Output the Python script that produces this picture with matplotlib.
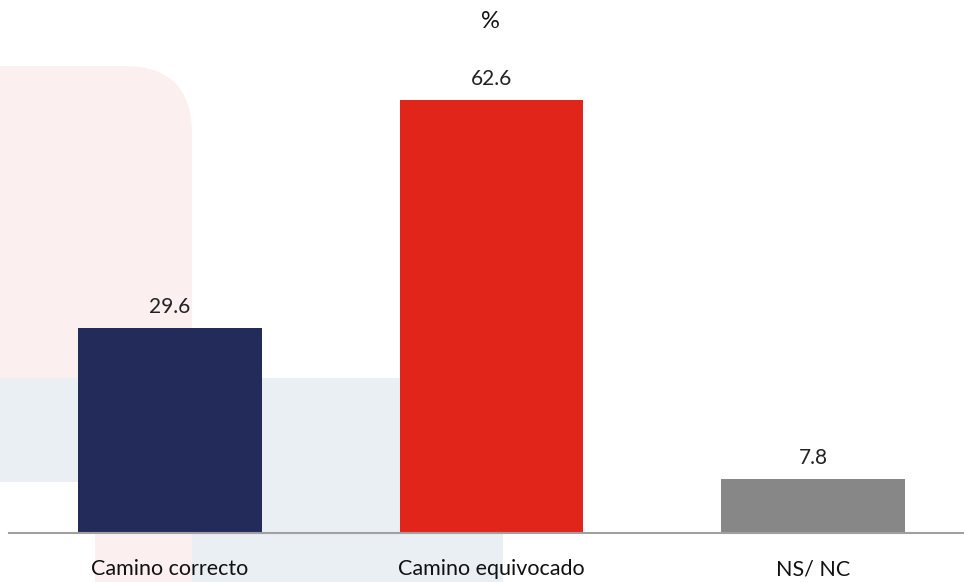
import matplotlib.pyplot as plt
from matplotlib.patches import FancyBboxPatch, Rectangle

# data
categories = ['Camino correcto', 'Camino equivocado', 'NS/ NC']
values = [29.6, 62.6, 7.8]
bar_colors = ['#222B59', '#E1251B', '#878787']

plt.rcParams['font.family'] = ['Lato', 'DejaVu Sans']

W, H = 964, 582
fig = plt.figure(figsize=(W / 100, H / 100), dpi=100)

# faint background decoration, in pixel coordinates
bg = fig.add_axes([0, 0, 1, 1], zorder=0)
bg.set_xlim(0, W)
bg.set_ylim(H, 0)
bg.axis('off')
pink = '#FBEFEF'
blue = '#EAEFF4'
bg.add_patch(FancyBboxPatch((-150, 66), 342, 700, boxstyle='round,pad=0,rounding_size=68',
                            fc=pink, ec='none'))
bg.add_patch(Rectangle((0, 482), 95, 120, fc='white', ec='none'))
bg.add_patch(Rectangle((0, 378), 503, 104, fc=blue, ec='none'))
bg.add_patch(Rectangle((192, 482), 311, 120, fc=blue, ec='none'))

# main chart
left = 9.25 / W
width = 964.5 / W
bottom = (H - 533) / H
ymax = 70
height = ymax * 6.92 / H
ax = fig.add_axes([left, bottom, width, height], zorder=1)
ax.set_facecolor('none')

x = range(len(categories))
bars = ax.bar(x, values, width=0.572, color=bar_colors)
ax.set_xlim(-0.5, 2.5)
ax.set_ylim(0, ymax)

for b, v in zip(bars, values):
    ax.annotate(f'{v:.1f}', (b.get_x() + b.get_width() / 2, v), xytext=(0, 8),
                textcoords='offset points', ha='center', va='bottom', fontsize=15, color='#222222')

ax.set_xticks(list(x))
ax.set_xticklabels(categories, fontsize=15.5, color='#111111')
ax.tick_params(axis='x', length=0, pad=19)
ax.set_yticks([])
for s in ['top', 'right', 'left']:
    ax.spines[s].set_visible(False)
ax.spines['bottom'].set_color('#A0A0A0')
ax.spines['bottom'].set_linewidth(1.5)

fig.text(490 / W, 1 - 22 / H, '%', ha='center', va='center', fontsize=17, color='#111111')

fig.savefig('out.png', dpi=100)
